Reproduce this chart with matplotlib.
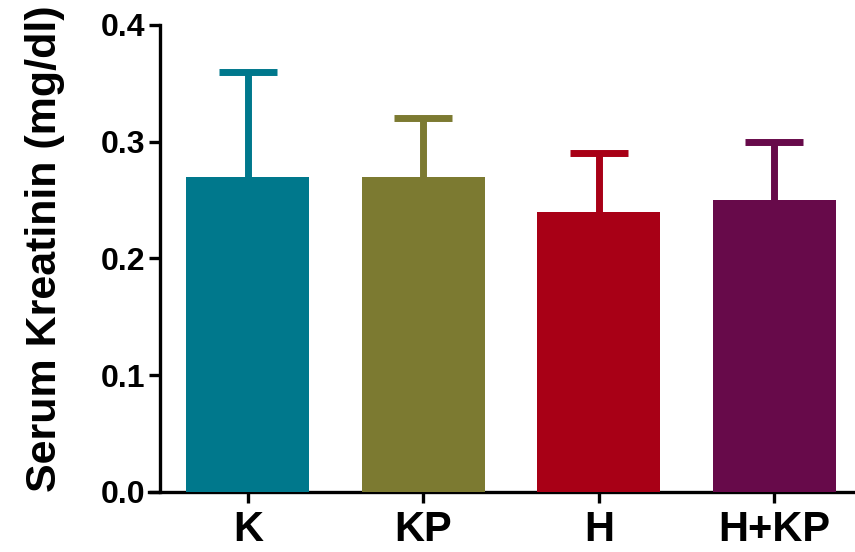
import numpy as np
import matplotlib.pyplot as plt

plt.rcParams['font.family'] = ['Liberation Sans', 'DejaVu Sans']
plt.rcParams['font.weight'] = 'bold'

# data
groups = ['K', 'KP', 'H', 'H+KP']
means = [0.27, 0.27, 0.24, 0.25]
errors = [0.09, 0.05, 0.05, 0.05]
colors = ['#00788c', '#7c7a31', '#a80016', '#670a4a']

fig = plt.figure(figsize=(8.55, 5.52), dpi=100)
ax = fig.add_axes([0.174, 0.109, 0.826, 0.846])

# spine position first (it resets tick label styles)
for s in ['top', 'right']:
    ax.spines[s].set_visible(False)
ax.spines['left'].set_position(('data', -0.5))
ax.spines['left'].set_linewidth(2.4)
ax.spines['bottom'].set_linewidth(2.4)

x = np.arange(len(groups))
for xi, m, e, c in zip(x, means, errors, colors):
    ax.bar(xi, m, width=0.7, color=c, zorder=3)
    _, caps, _ = ax.errorbar(xi, m, yerr=[[0], [e]], fmt='none', ecolor=c,
                             elinewidth=5, capsize=21, capthick=5, zorder=2)
    caps[0].set_visible(False)  # no lower cap

ax.set_xlim(-0.565, 3.46)
ax.set_ylim(0, 0.4)
ax.set_yticks([0.0, 0.1, 0.2, 0.3, 0.4])
ax.set_yticklabels(['0.0', '0.1', '0.2', '0.3', '0.4'])
ax.set_xticks(x)
ax.set_xticklabels(groups)
ax.tick_params(axis='both', width=2.4, length=8, direction='out')
ax.tick_params(axis='x', pad=5, labelsize=30)
ax.tick_params(axis='y', pad=3, labelsize=23)

ax.set_ylabel('Serum Kreatinin (mg/dl)', fontsize=31, fontweight='bold')
ax.yaxis.set_label_coords(-0.118, 0.52)

fig.savefig('out.png', dpi=100)
